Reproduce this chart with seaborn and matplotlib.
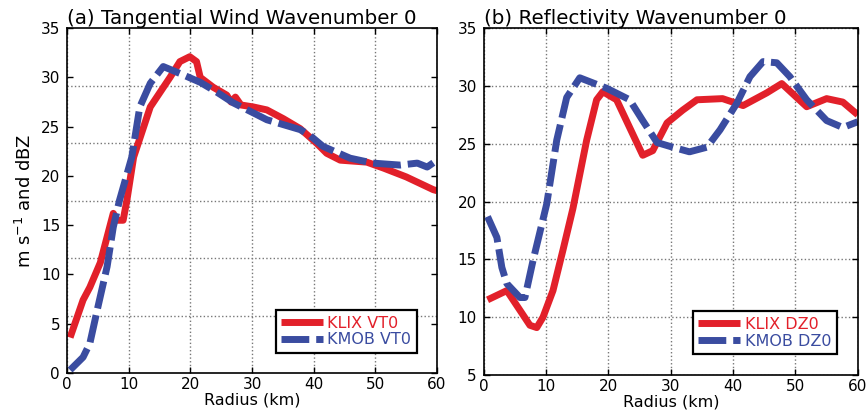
import numpy as np
import pandas as pd
import matplotlib
matplotlib.use("Agg")
import matplotlib.pyplot as plt
import seaborn as sns

# values
vt_klix_r = [0.5, 2.6, 3.7, 5.4, 7.5, 8.1, 9.1, 9.7, 10.8, 13.5, 16.7, 18.3, 19.9, 21.0, 21.6, 23.7,
             25.9, 26.6, 27.3, 28.2, 30.2, 32.4, 35.1, 37.8, 40.5, 42.1, 44.3, 48.6, 51.3, 55.0, 59.4, 60.0]
vt_klix = [3.6, 7.4, 8.7, 11.2, 16.2, 15.5, 15.5, 17.5, 21.9, 27.0, 30.0, 31.6, 32.1, 31.6, 30.0, 29.0,
           28.2, 27.5, 28.0, 27.2, 27.0, 26.7, 25.8, 24.8, 23.3, 22.3, 21.6, 21.4, 20.8, 19.9, 18.6, 18.5]

vt_kmob_r = [0.5, 2.6, 3.7, 4.9, 6.5, 7.5, 8.5, 10.5, 11.8, 13.5, 15.6, 18.3, 21.6, 24.3, 27.0, 30.2,
             32.4, 35.1, 37.8, 39.4, 41.5, 45.9, 49.6, 54.0, 56.8, 58.4, 60.0]
vt_kmob = [0.3, 1.6, 3.0, 6.4, 10.8, 14.8, 17.5, 21.9, 27.0, 29.4, 31.1, 30.4, 29.5, 28.5, 27.4, 26.4,
           25.7, 25.2, 24.7, 24.1, 23.0, 21.8, 21.3, 21.1, 21.3, 20.9, 21.6]

dz_klix_r = [0.6, 3.7, 5.8, 7.4, 8.5, 9.5, 11.1, 12.7, 14.3, 16.5, 18.1, 19.1, 21.3, 23.4, 25.5, 27.1,
             29.4, 31.9, 34.2, 38.3, 41.6, 45.4, 47.8, 50.2, 51.8, 55.0, 57.6, 60.0]
dz_klix = [11.5, 12.3, 10.6, 9.3, 9.1, 10.0, 12.3, 15.8, 19.4, 25.3, 28.8, 29.5, 28.8, 26.4, 24.0, 24.4,
           26.8, 27.9, 28.8, 28.9, 28.3, 29.4, 30.2, 29.0, 28.2, 28.9, 28.6, 27.5]

dz_kmob_r = [0.6, 2.1, 2.9, 3.7, 5.8, 6.6, 7.9, 10.1, 11.7, 13.3, 15.4, 19.7, 23.4, 25.5, 27.8, 30.3,
             33.0, 35.8, 37.9, 40.6, 42.7, 44.8, 47.0, 49.1, 51.8, 55.0, 57.6, 60.0]
dz_kmob = [18.7, 16.9, 14.3, 12.9, 11.7, 11.7, 14.9, 19.8, 25.3, 29.0, 30.7, 29.8, 28.8, 27.0, 25.1, 24.7,
           24.3, 24.7, 26.2, 28.5, 30.8, 32.1, 32.0, 30.8, 28.8, 27.0, 26.4, 26.9]

red = "#e2202a"
blue = "#3a4ca0"

sns.set_style("ticks")
plt.rcParams['font.family'] = ['DejaVu Sans']
plt.rcParams['text.color'] = 'black'
plt.rcParams['axes.labelcolor'] = 'black'
plt.rcParams['xtick.color'] = 'black'
plt.rcParams['ytick.color'] = 'black'

fig = plt.figure(figsize=(8.67, 4.13), dpi=100)
ax1 = fig.add_axes([0.0773, 0.0969, 0.4268, 0.835])
ax2 = fig.add_axes([0.558, 0.092, 0.4314, 0.840])


def draw(ax, r1, v1, lab1, r2, v2, lab2):
    sns.lineplot(x=r1, y=v1, ax=ax, color=red, linewidth=5, label=lab1, sort=False,
                 solid_capstyle='butt', solid_joinstyle='round')
    sns.lineplot(x=r2, y=v2, ax=ax, color=blue, linewidth=5, label=lab2, sort=False,
                 dash_capstyle='butt', dash_joinstyle='round')
    ax.lines[1].set_dashes((4, 1))
    ax.set_xlim(0, 60)
    ax.set_xticks(range(0, 61, 10))
    ax.tick_params(direction='in', top=True, right=True, labelsize=11, length=4, width=1)
    ax.tick_params(axis='y', pad=5)
    ax.tick_params(axis='x', pad=3)
    ax.tick_params(which='minor', length=0)
    for s in ax.spines.values():
        s.set_linewidth(1.2)
        s.set_color('black')
    ax.set_xlabel("Radius (km)", fontsize=11.5, labelpad=0)
    leg = ax.legend(loc='lower right', frameon=True, fancybox=False, edgecolor='black',
                    framealpha=1, fontsize=11.5, handlelength=2.6, handletextpad=0.3,
                    borderpad=0.35, labelspacing=0.1, labelcolor='linecolor',
                    borderaxespad=0)
    leg.get_frame().set_linewidth(1.6)
    return leg


leg1 = draw(ax1, vt_klix_r, vt_klix, "KLIX VT0", vt_kmob_r, vt_kmob, "KMOB VT0")
ax1.set_ylim(0, 35)
ax1.set_yticks(range(0, 36, 5))
ax1.set_yticks(np.arange(1, 6) * 35 / 6, minor=True)
ax1.grid(which='major', axis='x', color='#777777', linestyle=':', linewidth=1)
ax1.grid(which='minor', axis='y', color='#777777', linestyle=':', linewidth=1)
ax1.set_ylabel("m s$^{-1}$ and dBZ", fontsize=13, labelpad=4)
ax1.set_title("(a) Tangential Wind Wavenumber 0", loc='left', fontsize=14.3, pad=3)
leg1.set_bbox_to_anchor((0.946, 0.058), transform=ax1.transAxes)

leg2 = draw(ax2, dz_klix_r, dz_klix, "KLIX DZ0", dz_kmob_r, dz_kmob, "KMOB DZ0")
ax2.set_ylim(5, 35)
ax2.set_yticks(range(5, 36, 5))
ax2.grid(which='major', color='#777777', linestyle=':', linewidth=1)
ax2.set_ylabel("")
ax2.set_title("(b) Reflectivity Wavenumber 0", loc='left', fontsize=14.3, pad=3)
leg2.set_bbox_to_anchor((0.944, 0.06), transform=ax2.transAxes)

fig.savefig("out.png", dpi=100)
